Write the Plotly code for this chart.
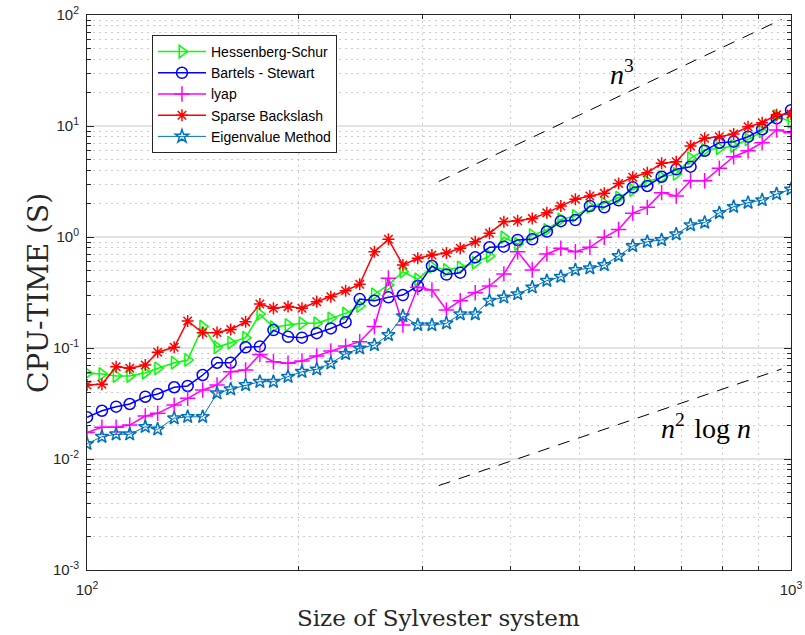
import plotly.graph_objects as go

# Problem sizes n (log-spaced from 100 to 1000)
sizes = [100, 105, 110, 115, 121, 126, 133, 139, 146, 153,
         160, 168, 176, 184, 193, 202, 212, 222, 233, 244,
         256, 268, 281, 295, 309, 324, 339, 356, 373, 391,
         409, 429, 450, 471, 494, 518, 543, 569, 596, 625,
         655, 687, 720, 754, 791, 829, 869, 910, 954, 1000]

# CPU times in seconds for each solver
hessenberg_schur = [0.0592, 0.0583, 0.0560, 0.0560, 0.0599, 0.0656, 0.0737, 0.0780, 0.156, 0.1015,
                    0.1116, 0.124, 0.202, 0.154, 0.161, 0.167, 0.167, 0.185, 0.205, 0.239,
                    0.305, 0.370, 0.487, 0.416, 0.540, 0.504, 0.533, 0.586, 0.674, 0.994,
                    0.865, 1.04, 1.16, 1.44, 1.55, 1.87, 2.01, 2.27, 2.65, 3.15,
                    3.45, 3.70, 5.12, 6.08, 6.30, 6.60, 7.59, 8.89, 12.3, 10.9]

bartels_stewart = [0.0238, 0.0272, 0.0296, 0.0313, 0.0364, 0.0385, 0.0443, 0.0455, 0.0571, 0.0737,
                   0.0737, 0.1015, 0.103, 0.145, 0.126, 0.124, 0.136, 0.150, 0.171, 0.276,
                   0.267, 0.286, 0.300, 0.362, 0.548, 0.459, 0.477, 0.656, 0.808, 0.818,
                   0.940, 0.953, 1.12, 1.39, 1.42, 1.90, 1.85, 2.14, 2.80, 2.88,
                   3.49, 4.07, 4.30, 5.99, 7.07, 7.22, 8.01, 9.34, 11.7, 13.9]

lyap = [0.0173, 0.0193, 0.0193, 0.0202, 0.0244, 0.0258, 0.0306, 0.0352, 0.0419, 0.0464,
        0.0611, 0.0634, 0.0874, 0.0753, 0.0728, 0.0764, 0.0847, 0.0940, 0.104, 0.114,
        0.156, 0.425, 0.161, 0.352, 0.333, 0.220, 0.267, 0.315, 0.362, 0.465,
        0.737, 0.504, 0.703, 0.791, 0.737, 0.808, 0.994, 1.17, 1.64, 1.85,
        2.51, 2.34, 3.21, 3.21, 4.16, 5.29, 5.99, 7.07, 9.20, 8.70]

sparse_backslash = [0.0464, 0.0471, 0.0679, 0.0656, 0.0703, 0.0915, 0.1015, 0.175, 0.137, 0.138,
                    0.147, 0.172, 0.249, 0.228, 0.236, 0.228, 0.261, 0.290, 0.328, 0.375,
                    0.737, 0.953, 0.560, 0.643, 0.689, 0.718, 0.791, 0.907, 1.08, 1.37,
                    1.40, 1.47, 1.65, 1.90, 2.19, 2.34, 2.48, 3.03, 3.45, 3.79,
                    4.61, 4.77, 6.60, 7.75, 8.01, 8.47, 9.86, 10.7, 12.6, 12.8]

eigenvalue_method = [0.0137, 0.0159, 0.0167, 0.0167, 0.0195, 0.0185, 0.0233, 0.0240, 0.0240, 0.0391,
                     0.0425, 0.0464, 0.0497, 0.0497, 0.0551, 0.0611, 0.0643, 0.0728, 0.0883, 0.0994,
                     0.1064, 0.131, 0.194, 0.161, 0.161, 0.167, 0.202, 0.202, 0.267, 0.286,
                     0.306, 0.352, 0.404, 0.439, 0.504, 0.523, 0.560, 0.674, 0.830, 0.907,
                     0.940, 1.06, 1.28, 1.35, 1.65, 1.87, 2.04, 2.15, 2.44, 2.69]

# Reference complexity slopes
cubic_n = [316, 970]
cubic_t = [3.16, 91.3]
nlogn_n = [316, 500, 700, 970]
nlogn_t = [0.00576, 0.0155, 0.0321, 0.0647]

series = [
    ("Hessenberg-Schur", hessenberg_schur, "#00FF00", "triangle-right-open", 11, 1.5),
    ("Bartels - Stewart", bartels_stewart, "#0000FF", "circle-open", 11, 1.5),
    ("lyap", lyap, "#FF00FF", "cross-thin-open", 11, 1.5),
    ("Sparse Backslash", sparse_backslash, "#FF0000", "asterisk-open", 10, 1.5),
    ("Eigenvalue Method", eigenvalue_method, "#0072BD", "star-open", 10, 1.0),
]

fig = go.Figure()

for name, vals, color, sym, msize, lw in series:
    fig.add_trace(go.Scatter(
        x=sizes, y=vals, name=name, mode="lines+markers",
        line=dict(color=color, width=lw),
        marker=dict(symbol=sym, size=msize, color=color,
                    line=dict(color=color, width=1.5)),
    ))

for xs, ys in [(cubic_n, cubic_t), (nlogn_n, nlogn_t)]:
    fig.add_trace(go.Scatter(
        x=xs, y=ys, mode="lines", showlegend=False, hoverinfo="skip",
        line=dict(color="black", width=1, dash="12px,9px"),
    ))

# Slope labels (log10 coordinates on both axes)
fig.add_annotation(x=2.760, y=1.486, xref="x", yref="y",
                   text="<i>n</i><sup>3</sup>", showarrow=False,
                   font=dict(family="Liberation Serif", size=28, color="black"))
fig.add_annotation(x=2.879, y=-1.703, xref="x", yref="y",
                   text="<i>n</i><sup>2</sup>&#8202; log <i>n</i>", showarrow=False,
                   font=dict(family="Liberation Serif", size=28, color="black"))

# Axis titles
fig.add_annotation(x=0.4986, y=-0.113, xref="paper", yref="paper",
                   text="Size of Sylvester system", showarrow=False,
                   font=dict(family="DejaVu Serif", size=23, color="#262626"))
fig.add_annotation(x=-0.0952, y=0.5, xref="paper", yref="paper", textangle=-90,
                   text="CPU-TIME (S)", showarrow=False,
                   font=dict(family="DejaVu Serif", size=28, color="#262626"))

minor_x = [200, 300, 400, 500, 600, 700, 800, 900]
minor_y = [m * 10.0 ** e for e in range(-3, 2) for m in range(2, 10)]

axis_common = dict(
    type="log", showline=True, linecolor="#262626", linewidth=1,
    mirror="allticks", ticks="inside", ticklen=7, tickcolor="#262626",
    showgrid=True, gridcolor="#e3e3e3", gridwidth=1.5, zeroline=False,
    automargin=False,
    tickfont=dict(family="Liberation Sans", size=15, color="#262626"),
)
minor_common = dict(ticks="inside", ticklen=4, tickcolor="#262626",
                    showgrid=True, gridcolor="#cccccc", griddash="2px,4px", gridwidth=1)

fig.update_xaxes(
    **axis_common, range=[2, 3], ticklabelstandoff=6,
    tickvals=[100, 1000], ticktext=["10<sup>2</sup>", "10<sup>3</sup>"],
    minor=dict(tickvals=minor_x, **minor_common),
)
fig.update_yaxes(
    **axis_common, range=[-3, 2], ticklabelstandoff=4,
    tickvals=[1e-3, 1e-2, 1e-1, 1, 10, 100],
    ticktext=["10<sup>-3</sup>", "10<sup>-2</sup>", "10<sup>-1</sup>",
              "10<sup>0</sup>", "10<sup>1</sup>", "10<sup>2</sup>"],
    minor=dict(tickvals=minor_y, **minor_common),
)

fig.update_layout(
    width=805, height=635,
    margin=dict(l=87, r=14, t=15, b=65),
    paper_bgcolor="white", plot_bgcolor="white",
    legend=dict(x=0.0923, y=0.964, xanchor="left", yanchor="top",
                bgcolor="white", bordercolor="#262626", borderwidth=1,
                font=dict(family="Liberation Sans", size=14, color="black"),
                tracegroupgap=0, itemwidth=48),
)

fig.write_html("out.html")
